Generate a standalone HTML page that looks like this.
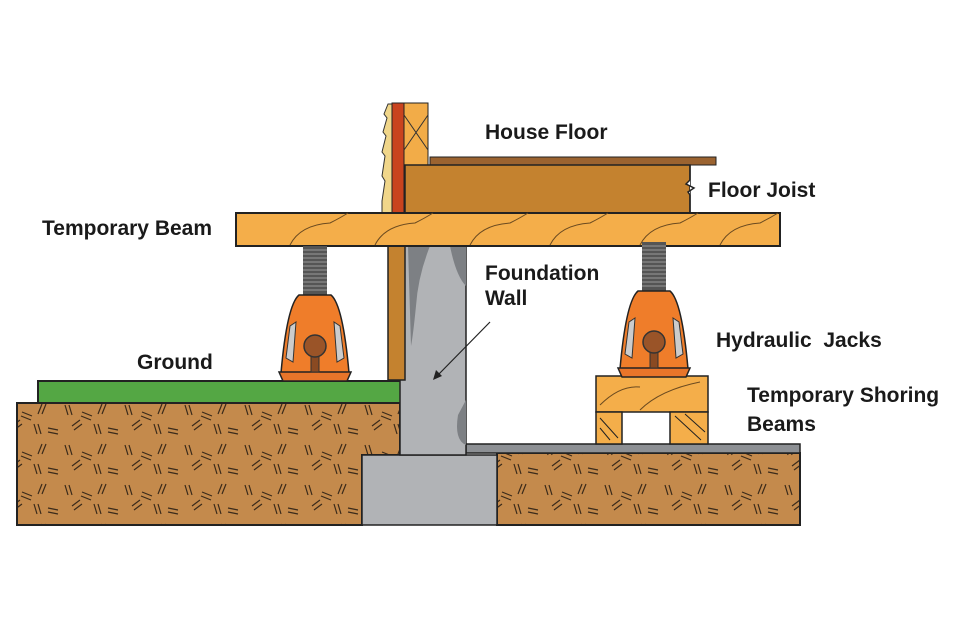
<!DOCTYPE html>
<html><head><meta charset="utf-8"><style>
html,body{margin:0;padding:0;background:#fff;}
svg{display:block;}
text{font-family:"Liberation Sans",sans-serif;font-weight:bold;font-size:21px;fill:#1a1a1a;}
</style></head><body>
<svg width="960" height="638" viewBox="0 0 960 638" xmlns="http://www.w3.org/2000/svg">
<defs>
<pattern id="soil" width="60" height="40" patternUnits="userSpaceOnUse">
<rect width="60" height="40" fill="#c48a4c"/>
<g stroke="#3a2a1a" stroke-width="1.2">
<path d="M5 5 l3 10 M9 5 l3 10"/><path d="M22 12 l10 4 M21 16 l10 4"/>
<path d="M42 4 l-4 10 M46 4 l-4 10"/><path d="M12 26 l8 -6 M14 30 l8 -6"/>
<path d="M34 24 l3 10 M38 24 l3 10"/><path d="M48 28 l10 2 M48 32 l10 2"/>
</g></pattern>
<g id="jack">
<rect x="-12" y="0" width="24" height="50" fill="#555"/>
<g stroke="#999" stroke-width="1">
<path d="M-12 4h24M-12 8h24M-12 12h24M-12 16h24M-12 20h24M-12 24h24M-12 28h24M-12 32h24M-12 36h24M-12 40h24M-12 44h24"/></g>
<path d="M-16 49 h32 q12 10 18 78 h-68 q6 -68 18 -78z" fill="#ef7d2a" stroke="#222" stroke-width="1.5"/>
<path d="M-36 126 h72 l-4 9 h-64z" fill="#e8752a" stroke="#222" stroke-width="1.5"/>
<path d="M-25 80 l6 -4 l-3 40 l-7 -4z" fill="#ccc" stroke="#333"/>
<path d="M25 80 l-6 -4 l3 40 l7 -4z" fill="#ccc" stroke="#333"/>
<rect x="-4" y="100" width="8" height="26" fill="#8a4a22" stroke="#333"/>
<circle cx="0" cy="100" r="11" fill="#9a5428" stroke="#333" stroke-width="1.5"/>
</g>
</defs>
<path d="M17 403 H400 V455 H362 V525 H17Z" fill="url(#soil)" stroke="#222" stroke-width="2"/>
<rect x="497" y="453" width="303" height="72" fill="url(#soil)" stroke="#222" stroke-width="2"/>
<rect x="362" y="455" width="135" height="70" fill="#b1b3b6" stroke="#222" stroke-width="1.5"/>
<rect x="466" y="444" width="334" height="9" fill="#8d9094" stroke="#222" stroke-width="1.5"/>
<rect x="38" y="381" width="364" height="22" fill="#54a744" stroke="#222" stroke-width="2"/>
<rect x="400" y="246" width="66" height="209" fill="#b1b3b6" stroke="#222" stroke-width="1.5"/>
<path d="M408 246 h22 q-12 30 -14 60 q-3 30 -5 40 l-3 -100z" fill="#7d8084"/>
<path d="M450 246 h16 v40 q-10 -10 -16 -40z" fill="#7d8084"/>
<path d="M466 400 v45 q-12 -5 -8 -30z" fill="#7d8084"/>
<path d="M490 322 L437 376" stroke="#222" stroke-width="1.2"/>
<path d="M433 380 l3 -10 l6 6z" fill="#222"/>
<rect x="388" y="246" width="17" height="134" fill="#c4822f" stroke="#222" stroke-width="1.5"/>
<path d="M388 104 l-4 10 l3 4 l-4 14 l3 4 l-4 16 l3 4 l-3 20 l3 5 l-3 20 v12 h10 v-109z" fill="#f0d68a" stroke="#333"/>
<rect x="392" y="103" width="12" height="110" fill="#c9431e" stroke="#222"/>
<rect x="404" y="103" width="24" height="110" fill="#f2ac48" stroke="#222"/>
<path d="M404 115 L428 150 M428 115 L404 150" stroke="#333"/>
<rect x="430" y="157" width="286" height="8" fill="#9b6330" stroke="#222"/>
<rect x="405" y="165" width="285" height="48" fill="#c4822f" stroke="#222" stroke-width="1.5"/>
<path d="M690 165 v15 l-4 4 l8 4 l-6 4 l2 3 v18" fill="#fff" stroke="#222" stroke-width="1.5"/>
<rect x="236" y="213" width="544" height="33" fill="#f4ae4a" stroke="#222" stroke-width="2"/>
<g stroke="#6a4a20" fill="none" stroke-width="1">
<path d="M290 245 q10 -20 40 -22 q10 -5 18 -10"/><path d="M375 245 q10 -20 40 -22 q10 -5 18 -10"/>
<path d="M470 245 q10 -20 40 -22 q10 -5 18 -10"/><path d="M550 245 q10 -20 40 -22 q10 -5 18 -10"/>
<path d="M640 245 q10 -20 40 -22 q10 -5 18 -10"/><path d="M720 245 q10 -20 40 -22 q10 -5 18 -10"/>
</g>
<rect x="596" y="376" width="112" height="36" fill="#f4ae4a" stroke="#222" stroke-width="1.5"/>
<path d="M600 405 q20 -20 40 -18 M640 410 q20 -20 60 -28" stroke="#6a4a20" fill="none"/>
<rect x="596" y="412" width="26" height="32" fill="#f4ae4a" stroke="#222" stroke-width="1.5"/>
<rect x="670" y="412" width="38" height="32" fill="#f4ae4a" stroke="#222" stroke-width="1.5"/>
<path d="M600 418 l18 20 M600 428 l10 12 M675 416 l26 24 M685 414 l20 18" stroke="#222" fill="none"/>
<use href="#jack" x="315" y="246"/>
<use href="#jack" x="654" y="242"/>
<text x="485" y="139">House Floor</text>
<text x="708" y="197">Floor Joist</text>
<text x="42" y="235">Temporary Beam</text>
<text x="485" y="280">Foundation</text>
<text x="485" y="305">Wall</text>
<text x="137" y="369">Ground</text>
<text x="716" y="347" xml:space="preserve">Hydraulic  Jacks</text>
<text x="747" y="402">Temporary Shoring</text>
<text x="747" y="431">Beams</text>
</svg>
</body></html>
